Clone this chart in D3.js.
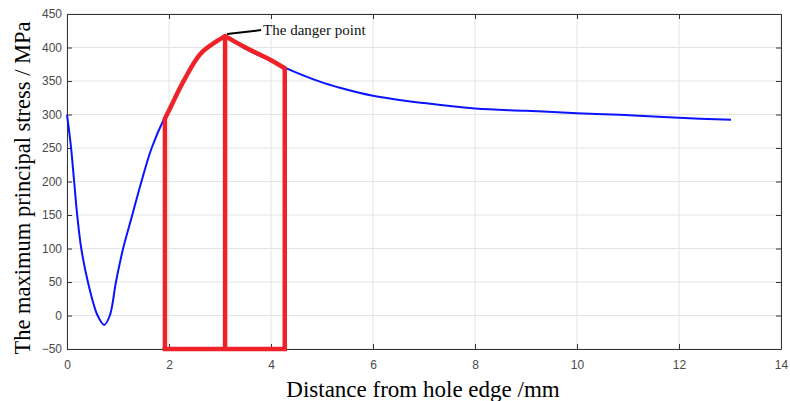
<!DOCTYPE html>
<html><head><meta charset="utf-8">
<script src="https://cdn.jsdelivr.net/npm/d3@7"></script>
<style>body{margin:0;background:#fff}svg{display:block}</style>
</head><body>
<script>
// Blue curve: distance (mm) vs max principal stress (MPa)
const distance = [0, 0.08, 0.14, 0.20, 0.28, 0.41, 0.60, 0.73, 0.84, 0.96, 1.10, 1.28, 1.46, 1.66, 1.90, 2.0, 2.28, 2.61, 2.93, 3.13, 3.5, 4.0, 4.27, 4.96, 5.35, 6, 7, 8, 9, 10, 10.84, 12, 13.02];
const stress   = [300, 250, 200, 150, 100, 50, 0, -14, 0, 50, 100, 150, 200, 250, 293, 306, 349, 390, 409, 416, 398, 380, 370, 349, 340, 328, 317, 309, 305.5, 302, 299.5, 295, 292];
// Red highlighted region (rising part and falling part)
const redRiseX = [1.92, 2.0, 2.28, 2.61, 2.93, 3.1];
const redRiseY = [294, 306, 349, 390, 409, 417];
const redFallX = [3.1, 3.5, 4.0, 4.27];
const redFallY = [417, 400, 381, 369];
const redVerticals = [1.92, 3.1, 4.27];
const redVerticalTops = [294, 417, 369];
const xTicks = [0, 2, 4, 6, 8, 10, 12, 14];
const yTicks = [-50, 0, 50, 100, 150, 200, 250, 300, 350, 400, 450];
const dangerPoint = [3.1, 417];

const W = 790, H = 401;
const m = {left: 67, right: 9, top: 14, bottom: 52};
const svg = d3.select("body").append("svg").attr("width", W).attr("height", H);
const x = d3.scaleLinear().domain([0, 14]).range([m.left, W - m.right]);
const y = d3.scaleLinear().domain([-50, 450]).range([H - m.bottom, m.top]);

// grid
const g = svg.append("g");
g.selectAll(".vg").data(xTicks).join("line")
  .attr("x1", d => x(d)).attr("x2", d => x(d)).attr("y1", y(-50)).attr("y2", y(450))
  .attr("stroke", "#e4e4e4").attr("stroke-width", 1);
g.selectAll(".hg").data(yTicks).join("line")
  .attr("y1", d => y(d)).attr("y2", d => y(d)).attr("x1", x(0)).attr("x2", x(14))
  .attr("stroke", "#e4e4e4").attr("stroke-width", 1);

// axes
const axStyle = sel => {
  sel.select(".domain").attr("stroke", "#333");
  sel.selectAll(".tick line").attr("stroke", "#333");
  sel.selectAll(".tick text").attr("fill", "#4a4a4a").attr("font-family", "Liberation Sans, Arial, sans-serif").attr("font-size", 12);
};
svg.append("g").attr("transform", `translate(0,${y(-50)})`)
  .call(d3.axisBottom(x).tickValues(xTicks).tickSize(-5).tickSizeOuter(0).tickPadding(11)).call(axStyle);
svg.append("g").attr("transform", `translate(${x(0)},0)`)
  .call(d3.axisLeft(y).tickValues(yTicks).tickSize(-5).tickSizeOuter(0).tickPadding(5)).call(axStyle);
svg.append("g").attr("transform", `translate(0,${y(450)})`)
  .call(d3.axisTop(x).tickValues(xTicks).tickSize(-5).tickSizeOuter(0).tickFormat("")).call(axStyle);
svg.append("g").attr("transform", `translate(${x(14)},0)`)
  .call(d3.axisRight(y).tickValues(yTicks).tickSize(-5).tickSizeOuter(0).tickFormat("")).call(axStyle);

// blue curve
const line = d3.line().x(d => x(d[0])).y(d => y(d[1])).curve(d3.curveCatmullRom.alpha(0.5));
svg.append("path").datum(distance.map((d, i) => [d, stress[i]]))
  .attr("d", line).attr("fill", "none").attr("stroke", "#0a14ff").attr("stroke-width", 2);

// red region
const red = "#ee2228";
[[redRiseX, redRiseY], [redFallX, redFallY]].forEach(([xs, ys]) => {
  svg.append("path").datum(xs.map((d, i) => [d, ys[i]]))
    .attr("d", line).attr("fill", "none").attr("stroke", red).attr("stroke-width", 4.5)
    .attr("stroke-linejoin", "round").attr("stroke-linecap", "round");
});
svg.selectAll(".rv").data(redVerticals).join("line")
  .attr("x1", d => x(d)).attr("x2", d => x(d))
  .attr("y1", (d, i) => y(redVerticalTops[i]))
  .attr("y2", y(-50))
  .attr("stroke", red).attr("stroke-width", 4.5);
svg.append("line").attr("x1", x(redVerticals[0]) - 2.25).attr("x2", x(redVerticals[2]) + 2.25)
  .attr("y1", y(-50)).attr("y2", y(-50)).attr("stroke", red).attr("stroke-width", 4.5);

// danger point annotation
const px = x(dangerPoint[0]) + 2, py = y(dangerPoint[1]) - 2;
svg.append("line").attr("x1", px).attr("y1", py).attr("x2", px + 34).attr("y2", py - 4)
  .attr("stroke", "#000").attr("stroke-width", 2);
svg.append("text").attr("x", px + 36).attr("y", py + 1)
  .attr("font-family", "Liberation Serif, Times New Roman, serif").attr("font-size", 15)
  .attr("fill", "#111").text("The danger point");

// axis labels
svg.append("text").attr("x", 423).attr("y", 397).attr("text-anchor", "middle")
  .attr("font-family", "Liberation Serif, Times New Roman, serif").attr("font-size", 23)
  .attr("fill", "#000").text("Distance from hole edge /mm");
svg.append("text").attr("transform", `translate(30,${188}) rotate(-90)`).attr("text-anchor", "middle")
  .attr("font-family", "Liberation Serif, Times New Roman, serif").attr("font-size", 22.5)
  .attr("fill", "#000").text("The maximum principal stress / MPa");
</script>
</body></html>
